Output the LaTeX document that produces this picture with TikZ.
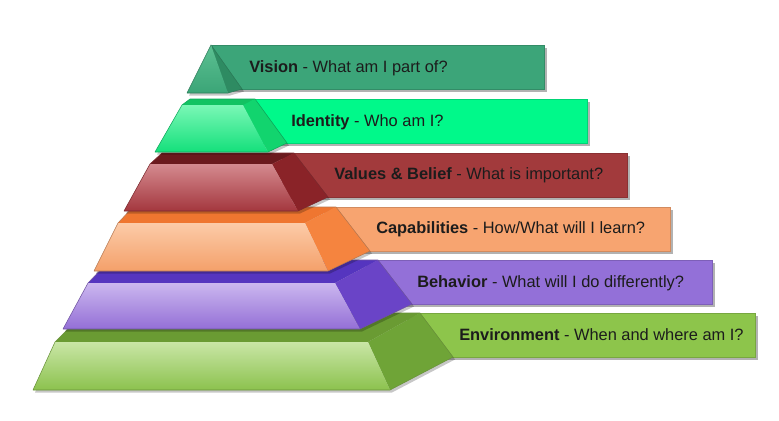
\documentclass[tikz,border=0pt]{standalone}
\usepackage{fontspec}
\setmainfont{Liberation Sans}
\usetikzlibrary{shadows}
% Environment
\definecolor{envban}{HTML}{8DC54B}\definecolor{envtop}{HTML}{C9E6A6}\definecolor{envbot}{HTML}{8CC24E}
\definecolor{envlid}{HTML}{6A9B33}\definecolor{envside}{HTML}{6FA437}
% Behavior
\definecolor{behban}{HTML}{9370D8}\definecolor{behtop}{HTML}{CBB7EF}\definecolor{behbot}{HTML}{946FD6}
\definecolor{behlid}{HTML}{5535BF}\definecolor{behside}{HTML}{6A44C7}
% Capabilities
\definecolor{capban}{HTML}{F7A470}\definecolor{captop}{HTML}{FCCBA8}\definecolor{capbot}{HTML}{F4A06A}
\definecolor{caplid}{HTML}{EF7630}\definecolor{capside}{HTML}{F5843F}
% Values
\definecolor{valban}{HTML}{A23A3C}\definecolor{valtop}{HTML}{D48A8F}\definecolor{valbot}{HTML}{A4373E}
\definecolor{vallid}{HTML}{6B1A1E}\definecolor{valside}{HTML}{8A2328}
% Identity
\definecolor{ideban}{HTML}{00F98A}\definecolor{idetop}{HTML}{7AF7B6}\definecolor{idebot}{HTML}{14E07B}
\definecolor{idelid}{HTML}{12C262}\definecolor{ideside}{HTML}{12D46E}
% Vision
\definecolor{visban}{HTML}{3CA579}\definecolor{vistop}{HTML}{5CC092}\definecolor{visbot}{HTML}{3BA577}
\definecolor{visside}{HTML}{2E8B62}
\definecolor{txt}{HTML}{1C1C1C}
\tikzset{
  banner/.style={fill=#1, draw=#1!85!black, line width=0.4pt,
    drop shadow={shadow xshift=2pt, shadow yshift=-2pt, opacity=0.3, fill=black}},
  lbl/.style={anchor=base west, text=txt, inner sep=0pt,
    font=\fontsize{12.3}{14}\selectfont},
  pshadow/.style={fill=black, opacity=0.22},
}
% #1 BL  #2 TL  #3 TR  #4 BR  #5 back-left  #6 back-top-right  #7 back-bottom  #8 colour prefix
\newcommand\pyrlayer[8]{%
  \fill[pshadow, shift={(2,2.5)}] #1 -- #2 -- #5 -- #6 -- #7 -- #4 -- cycle;
  \fill[#8lid] #2 -- #5 -- #6 -- #3 -- cycle;
  \fill[#8side] #3 -- #6 -- #7 -- #4 -- cycle;
  \shade[top color=#8top, bottom color=#8bot] #1 -- #2 -- #3 -- #4 -- cycle;
  \draw[#8bot!75!black, line width=0.4pt, line join=round]
    #1 -- #2 -- #5 -- #6 -- #7 -- #4 -- cycle;
}
\begin{document}
\begin{tikzpicture}[x=0.75pt, y=-0.75pt]
\fill[white] (0,0) rectangle (779,421);
\useasboundingbox (0,0) rectangle (779,421);

% Environment
\draw[banner=envban] (408,313) rectangle (755,357);
\pyrlayer{(33,390)}{(55,342)}{(368,342)}{(390,390)}{(84,313)}{(420,313)}{(453,357)}{env}
% Behavior
\draw[banner=behban] (366,260) rectangle (712,304);
\pyrlayer{(63,329)}{(88,283)}{(335,283)}{(360,329)}{(110,260)}{(378,260)}{(412,304)}{beh}
% Capabilities
\draw[banner=capban] (324,207) rectangle (670,251);
\pyrlayer{(94,271)}{(118,223)}{(305,223)}{(328,271)}{(133,207)}{(336,207)}{(370,251)}{cap}
% Values & Belief
\draw[banner=valban] (282,153) rectangle (627,197);
\pyrlayer{(124,211)}{(150,164)}{(272,164)}{(298,211)}{(162,153)}{(294,153)}{(328,197)}{val}
% Identity
\draw[banner=ideban] (243,99) rectangle (587,143);
\pyrlayer{(155,152)}{(182,105)}{(243,105)}{(268,152)}{(190,99)}{(255,99)}{(287,143)}{ide}
% Vision
\draw[banner=visban] (212,45) rectangle (544,89);
\fill[pshadow, shift={(2,2.5)}] (187,93) -- (211,45) -- (242,89) -- (228,93) -- cycle;
\fill[visside] (211,45) -- (242,89) -- (228,93) -- cycle;
\shade[top color=vistop, bottom color=visbot] (187,93) -- (211,45) -- (228,93) -- cycle;
\draw[visbot!75!black, line width=0.4pt, line join=round] (187,93) -- (211,45) -- (242,89) -- (228,93) -- cycle;

% Labels
\node[lbl] (tvis) at (249,72) {\textbf{Vision} - What am I part of?};
\node[lbl] (tide) at (291,126) {\textbf{Identity} - Who am I?};
\node[lbl] (tval) at (334,179) {\textbf{Values \& Belief} - What is important?};
\node[lbl] (tcap) at (376,233) {\textbf{Capabilities} - How/What will I learn?};
\node[lbl] (tbeh) at (417,287) {\textbf{Behavior} - What will I do differently?};
\node[lbl] (tenv) at (459,340) {\textbf{Environment} - When and where am I?};
\end{tikzpicture}
\end{document}
